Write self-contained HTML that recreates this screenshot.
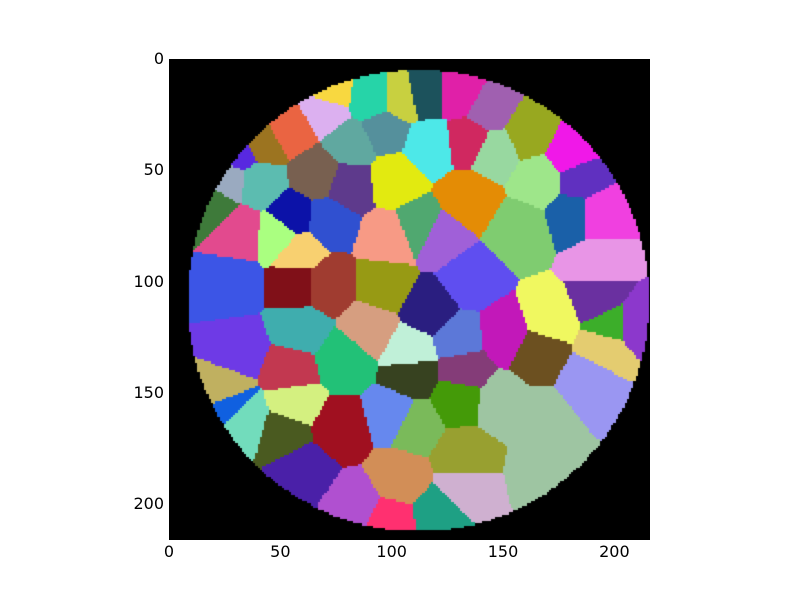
<!DOCTYPE html>
<html><head><meta charset="utf-8"><style>
body{margin:0;background:#fff;width:800px;height:600px;position:relative;overflow:hidden;font-family:"DejaVu Sans","Liberation Sans",sans-serif;}
#plot{position:absolute;left:169px;top:59px;width:481px;height:481px;}
.t{position:absolute;font-size:16px;color:#000;}
</style></head><body>
<canvas id="plot" width="481" height="481"></canvas>
<div id="axes"></div>
<script>
const xTicks=[0,50,100,150,200];
const yTicks=[0,50,100,150,200];
const extent=216;
const circleCenter=[111.8,108.3];
const circleRadius=103.2;
const seedX=[27.4,31.9,76.8,166.6,135.2,99.2,97.0,117.2,58.8,79.0,90.3,150.9,171.1,193.5,157.6,166.6,117.2,101.5,81.3,54.3,115.0,97.0,162.1,189.0,61.1,103.7,56.6,34.1,109.1,135.2,130.7,182.3,110.5,132.9,132.9,121.7,55.7,71.4,57.9,70.9,31.0,19.8,27.4,40.0,42.2,198.9,195.8,209.3,166.6,54.3,143.2,132.9,130.7,101.5,108.2,49.8,58.8,112.7,121.7,193.5,72.3,91.6,104.6,131.6,70.0,180.1,146.4,135.2,184.6,192.6,66.9,82.2,52.1,25.1,83.5,99.2,31.9,27.4,148.6,168.9];
const seedY=[101.5,130.7,166.6,162.1,63.3,81.3,101.5,112.7,121.7,135.2,121.7,123.9,117.2,92.5,76.8,54.3,38.6,54.3,56.6,31.9,16.2,31.9,34.1,144.1,184.6,189.0,155.4,162.1,141.9,99.2,126.2,70.0,164.3,177.8,193.5,204.8,71.4,73.2,101.5,101.5,77.7,66.5,54.3,55.2,38.6,119.4,130.7,119.4,131.6,139.6,22.9,139.6,153.1,159.9,131.6,79.0,86.7,75.9,80.4,108.2,15.3,18.4,18.4,16.2,22.9,43.1,41.8,36.4,54.3,70.0,52.1,38.6,167.5,149.5,200.3,207.9,43.1,155.4,155.0,184.6];
const seedColor=["#3c55e6","#6e3ae6","#a01020","#9ec5a2","#e48c05","#f79a85","#979a14","#2a1e80","#3fadae","#22c177","#d69e80","#c218b9","#f0f860","#e895e6","#7fcc70","#9ee68a","#4de8e8","#e2ea10","#5e3a8c","#ea6442","#1c525c","#55909c","#98a820","#9a96f2","#4a20a8","#d28e57","#d4f080","#72dcbc","#374220","#5f4ef0","#5c78d8","#1a60a8","#7aba5a","#98a030","#cfb0d0","#1ea084","#0c12a8","#3050d0","#801018","#a03c30","#e24a8e","#3e7a3a","#9aaac0","#5cbcb0","#9c7420","#3cae2a","#e4cc70","#8c38cc","#6c5020","#c23850","#a060b0","#843c78","#449a08","#6688ee","#c0f0d8","#aaff80","#f8d070","#50a870","#a060d8","#6a30a0","#f8d840","#26d4a8","#c8d040","#e020a8","#dcb0f0","#f018e8","#98d8a0","#d02860","#6030c0","#f040e0","#786050","#60a8a0","#4a5a20","#c0b060","#b050d0","#ff3070","#5828e0","#1060e0","#9ec5a2","#9ec5a2"];

const cv=document.getElementById('plot');
const ctx=cv.getContext('2d');
const s=481/extent;
ctx.fillStyle='#000';ctx.fillRect(0,0,481,481);
for(let j=0;j<extent;j++){for(let i=0;i<extent;i++){
  const cx=i+0.5,cy=j+0.5;
  if((cx-circleCenter[0])**2+(cy-circleCenter[1])**2>circleRadius**2)continue;
  let best=0,bd=1e9;
  for(let k=0;k<seedX.length;k++){const d=(cx-seedX[k])**2+(cy-seedY[k])**2;if(d<bd){bd=d;best=k;}}
  ctx.fillStyle=seedColor[best];
  ctx.fillRect(Math.floor(i*s),Math.floor(j*s),Math.ceil(s)+1,Math.ceil(s)+1);
}}
const ax=document.getElementById('axes');
const X=v=>169+v*s, Y=v=>59+v*s;
xTicks.forEach(v=>{
  const d=document.createElement('div');
  
  
  d.className='t';d.textContent=v;
  d.style.left=(X(v)-30)+'px';d.style.width='60px';d.style.textAlign='center';d.style.top='542px';
  ax.appendChild(d);
});
yTicks.forEach(v=>{
  const d=document.createElement('div');
  
  
  d.className='t';d.textContent=v;
  d.style.left='100px';d.style.width='64px';d.style.textAlign='right';d.style.top=(Y(v)-10)+'px';
  ax.appendChild(d);
});
</script>
</body></html>
